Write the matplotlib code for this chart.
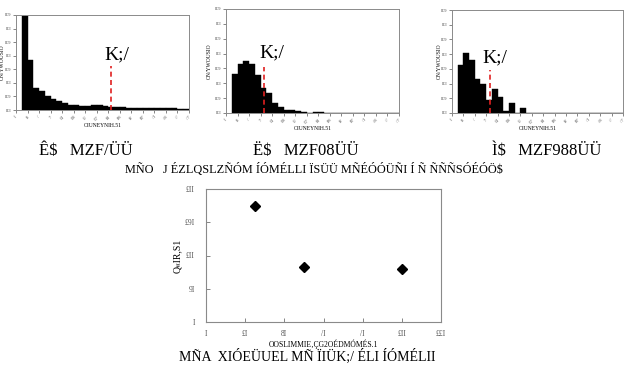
import matplotlib
matplotlib.use("Agg")
import matplotlib.pyplot as plt
import numpy as np

# histogram bin heights (fraction), bins start at x=1, width 1
hist_a = [0.346, 0.184, 0.080, 0.071, 0.053, 0.039, 0.032, 0.025, 0.020, 0.017,
          0.015, 0.015, 0.017, 0.020, 0.016, 0.012, 0.010, 0.010, 0.009, 0.009,
          0.007, 0.009, 0.009, 0.007, 0.006, 0.006, 0.006, 0.005, 0.004]
hist_b = [0.132, 0.165, 0.176, 0.164, 0.129, 0.083, 0.067, 0.034, 0.020, 0.011,
          0.011, 0.006, 0.002, 0.001, 0.002, 0.003, 0.001, 0.001, 0.0, 0.0,
          0.0, 0.0, 0.0, 0.0, 0.0, 0.0, 0.0, 0.0, 0.0]
hist_c = [0.164, 0.205, 0.181, 0.117, 0.099, 0.045, 0.081, 0.053, 0.006, 0.035,
          0.0, 0.018, 0.0, 0.0, 0.0, 0.0, 0.0, 0.0, 0.0, 0.0,
          0.0, 0.0, 0.0, 0.0, 0.0, 0.0, 0.0, 0.0, 0.0]
# threshold line (x position, height) and its label position
kline_x = [16.5, 6.6, 6.7]
kline_h = [0.163, 0.154, 0.145]
klabel_xy = [(17.4, 0.203), (7.9, 0.202), (7.5, 0.186)]

hist_yticks = [0, 0.05, 0.10, 0.15, 0.20, 0.25, 0.30, 0.35]
hist_ylabels = ["I£I", "I£9", "I£I", "I£9", "I£I", "I£9", "I£I", "I£9"]
hist_xticks = list(range(0, 31, 2))
hist_xlabels = ["I", "8", "/", "7", "£I", "£8", "£/", "£7", "8I", "88", "8/", "87",
                "/I", "/8", "//", "/7"]

# scatter
sc_x = [25, 50, 100]
sc_y = [175, 82, 79]
sc_xticks = [0, 20, 40, 60, 80, 100, 120]
sc_xlabels = ["I", "£I", "8I", "/I", "/I", "£II", "££I"]
sc_yticks = [0, 50, 100, 150, 200]
sc_ylabels = ["I", "9I", "£II", "£9I", "£II"]

captions_top = ["Ê$   MZF/ÜÜ", "Ë$   MZF08ÜÜ", "Ì$   MZF988ÜÜ"]
caption_mid = "MÑO   J ÉZLQSLZÑÓM ÍÓMÉLLI ÏSÜÜ MÑÉÓÓÜÑI Í Ñ ÑÑÑSÓÉÓÖ$"
caption_bot = "MÑA  XIÓEÜUEL MÑ ÏIÜK;/ ÉLI ÍÓMÉLII"

W, H = 628, 384
fig = plt.figure(figsize=(W / 100, H / 100), dpi=100)
serif = "Liberation Serif"
spine_col = "#8a8a8a"


def frac(l, t, r, b):
    return [l / W, (H - b) / H, (r - l) / W, (b - t) / H]


hist_boxes = [frac(16, 15, 189, 110), frac(226, 9, 399, 113), frac(452, 10, 623, 113)]
ylabel_x = [-0.065, -0.08, -0.06]
for k, (data, box) in enumerate(zip([hist_a, hist_b, hist_c], hist_boxes)):
    ax = fig.add_axes(box)
    xs = np.arange(1, len(data) + 1)
    ax.bar(xs, data, width=1.0, align="edge", color="black", edgecolor="black", linewidth=0.3)
    ax.set_xlim(0, 30)
    ax.set_ylim(0, 0.35)
    ax.set_yticks(hist_yticks)
    ax.set_yticklabels(hist_ylabels, fontsize=3.5, family=serif)
    ax.set_xticks(hist_xticks)
    ax.set_xticklabels(hist_xlabels, fontsize=3.5, family=serif, rotation=45)
    ax.tick_params(length=2, width=0.5, pad=1.5, colors="#555555")
    for s in ax.spines.values():
        s.set_color(spine_col)
        s.set_linewidth(0.7)
    ax.plot([kline_x[k], kline_x[k]], [0, kline_h[k]], color="#e02020",
            linestyle=(0, (3, 2)), linewidth=1.2)
    ax.text(klabel_xy[k][0], klabel_xy[k][1], "K;/", fontsize=14, family=serif,
            ha="center", va="center")
    ax.set_xlabel("OIUNEYNIH.51", fontsize=4, family=serif, labelpad=1)
    ax.set_ylabel("ON/YWOUSIO", fontsize=4, family=serif)
    ax.yaxis.set_label_coords(ylabel_x[k], 0.5)

# captions under histograms
cap_x = [86, 306, 547]
for cx, txt in zip(cap_x, captions_top):
    fig.text(cx / W, 1 - 151 / H, txt, fontsize=12, family=serif, ha="center", va="center")
fig.text(314 / W, 1 - 169 / H, caption_mid, fontsize=8.8, family=serif, ha="center", va="center")

# scatter panel
ax = fig.add_axes(frac(206, 189, 441, 322))
ax.plot(sc_x, sc_y, linestyle="none", marker="D", markersize=5, color="black")
ax.set_xlim(0, 120)
ax.set_ylim(0, 200)
ax.set_xticks(sc_xticks)
ax.set_xticklabels(sc_xlabels, fontsize=5.5, family=serif)
ax.set_yticks(sc_yticks)
ax.set_yticklabels(sc_ylabels, fontsize=5.5, family=serif)
ax.tick_params(length=3, width=0.5, colors="#555555", direction="in")
ax.tick_params(axis="y", pad=8)
ax.tick_params(axis="x", pad=6)
for s in ax.spines.values():
    s.set_color(spine_col)
    s.set_linewidth(0.8)
ax.set_xlabel("OOSLIMMIE‚ÇG2OÉDMÓMÉS.1", fontsize=5.5, family=serif, labelpad=0.5)
ax.set_ylabel("Q«IR,S1", fontsize=7, family=serif, labelpad=2)

fig.text(307 / W, 1 - 356 / H, caption_bot, fontsize=10, family=serif, ha="center", va="center")

fig.savefig("out.png", dpi=100)
